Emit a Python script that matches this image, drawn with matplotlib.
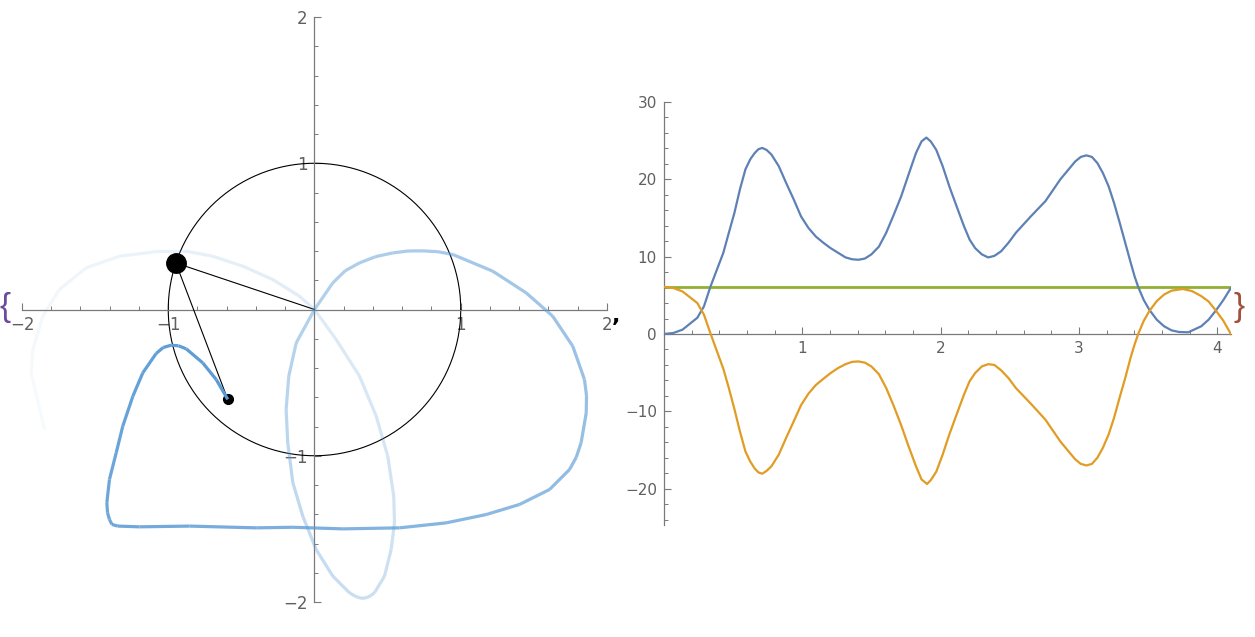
import numpy as np
import matplotlib.pyplot as plt
from matplotlib.collections import LineCollection
from matplotlib.colors import to_rgba

# ---- left panel: path of the outer bob, oldest point first ----
path_x = [-1.846, -1.937, -1.926, -1.858, -1.744, -1.561, -1.333, -1.060, -0.877, -0.695,
          -0.490, -0.285, -0.103, 0.0, 0.148, 0.308, 0.422, 0.501, 0.542, 0.547,
          0.524, 0.479, 0.410, 0.372, 0.330, 0.287, 0.239, 0.125, 0.011, -0.080,
          -0.148, -0.183, -0.194, -0.176, -0.125, 0.0, 0.125, 0.210, 0.308, 0.420,
          0.535, 0.640, 0.740, 0.845, 0.946, 1.219, 1.447, 1.629, 1.766, 1.846,
          1.860, 1.858, 1.823, 1.790, 1.744, 1.607, 1.402, 1.174, 0.900, 0.581,
          0.194, -0.148, -0.399, -0.855, -1.197, -1.345, -1.385, -1.402, -1.415, -1.420,
          -1.402, -1.356, -1.311, -1.242, -1.174, -1.083, -1.035, -0.980, -0.930, -0.877,
          -0.764, -0.672, -0.593]
path_y = [-0.821, -0.433, -0.274, -0.046, 0.137, 0.285, 0.364, 0.399, 0.399, 0.364,
          0.296, 0.205, 0.091, 0.0, -0.205, -0.456, -0.729, -1.003, -1.277, -1.459,
          -1.641, -1.823, -1.937, -1.965, -1.976, -1.965, -1.937, -1.823, -1.641, -1.413,
          -1.185, -0.911, -0.684, -0.456, -0.228, 0.0, 0.182, 0.265, 0.319, 0.362,
          0.387, 0.400, 0.401, 0.395, 0.376, 0.262, 0.114, -0.046, -0.251, -0.479,
          -0.590, -0.707, -0.911, -1.010, -1.094, -1.231, -1.333, -1.402, -1.459, -1.493,
          -1.500, -1.489, -1.493, -1.481, -1.486, -1.481, -1.470, -1.436, -1.390, -1.322,
          -1.162, -0.980, -0.798, -0.593, -0.433, -0.301, -0.260, -0.244, -0.248, -0.269,
          -0.365, -0.479, -0.615]

# pendulum arms: pivot, inner bob, outer bob
arm_x = [0.0, -0.948, -0.593]
arm_y = [0.0, 0.318, -0.615]

# ---- right panel: energies ----
t_kin = [0.0, 0.067, 0.134, 0.241, 0.289, 0.335, 0.380, 0.429, 0.469, 0.509,
         0.549, 0.589, 0.624, 0.656, 0.683, 0.710, 0.742, 0.777, 0.830, 0.884,
         0.938, 0.991, 1.045, 1.098, 1.152, 1.205, 1.259, 1.313, 1.361, 1.406,
         1.452, 1.500, 1.554, 1.607, 1.661, 1.715, 1.768, 1.822, 1.862, 1.897,
         1.929, 1.969, 2.015, 2.063, 2.116, 2.170, 2.210, 2.250, 2.298, 2.344,
         2.389, 2.438, 2.491, 2.545, 2.652, 2.759, 2.866, 2.973, 3.014, 3.054,
         3.094, 3.134, 3.174, 3.215, 3.255, 3.295, 3.335, 3.375, 3.402, 3.429,
         3.469, 3.509, 3.563, 3.616, 3.670, 3.724, 3.791, 3.885, 3.938, 3.992,
         4.045, 4.099]
kinetic = [0.0, 0.13, 0.56, 2.1, 3.58, 6.08, 8.2, 10.5, 13.1, 15.65,
           18.7, 21.3, 22.6, 23.4, 23.9, 24.06, 23.8, 23.2, 21.7, 19.5,
           17.4, 15.2, 13.7, 12.6, 11.8, 11.1, 10.5, 9.9, 9.66, 9.6,
           9.75, 10.3, 11.3, 13.1, 15.4, 17.8, 20.6, 23.4, 24.9, 25.4,
           24.9, 23.8, 21.7, 19.1, 16.5, 13.9, 12.2, 11.1, 10.3, 9.9,
           10.1, 10.7, 11.8, 13.1, 15.2, 17.2, 20.0, 22.3, 22.9, 23.1,
           22.9, 22.1, 20.8, 19.1, 16.9, 14.4, 11.8, 9.2, 7.5, 6.08,
           4.4, 3.15, 1.85, 1.0, 0.47, 0.26, 0.22, 1.0, 1.85, 3.06,
           4.4, 5.95]
t_pot = [0.0, 0.067, 0.134, 0.241, 0.289, 0.335, 0.380, 0.429, 0.469, 0.509,
         0.549, 0.589, 0.624, 0.656, 0.683, 0.710, 0.742, 0.777, 0.830, 0.884,
         0.938, 0.991, 1.045, 1.098, 1.152, 1.205, 1.259, 1.313, 1.361, 1.406,
         1.452, 1.500, 1.554, 1.607, 1.661, 1.715, 1.768, 1.822, 1.862, 1.902,
         1.929, 1.969, 2.015, 2.063, 2.116, 2.170, 2.210, 2.250, 2.298, 2.344,
         2.389, 2.438, 2.491, 2.545, 2.652, 2.759, 2.866, 2.973, 3.014, 3.054,
         3.094, 3.134, 3.174, 3.215, 3.255, 3.295, 3.335, 3.375, 3.402, 3.429,
         3.469, 3.509, 3.563, 3.616, 3.670, 3.750, 3.818, 3.885, 3.938, 3.992,
         4.045, 4.099]
potential = [6.08, 5.95, 5.5, 4.0, 2.5, 0.13, -2.1, -4.5, -7.0, -9.7,
             -12.6, -15.2, -16.5, -17.4, -17.9, -18.07, -17.7, -17.1, -15.6, -13.4,
             -11.3, -9.2, -7.7, -6.6, -5.8, -5.05, -4.4, -3.9, -3.6, -3.55,
             -3.7, -4.2, -5.2, -7.0, -9.3, -11.8, -14.5, -17.1, -18.8, -19.4,
             -18.9, -17.8, -15.6, -13.0, -10.4, -7.8, -6.1, -5.05, -4.2, -3.9,
             -4.0, -4.7, -5.7, -7.0, -9.0, -11.1, -13.9, -16.2, -16.8, -17.0,
             -16.8, -16.0, -14.7, -13.0, -10.8, -8.2, -5.7, -3.0, -1.4, 0.0,
             1.7, 2.95, 4.25, 5.1, 5.6, 5.82, 5.55, 4.9, 4.2, 3.0,
             1.7, 0.0]
t_total = [0.0, 4.1]
total = [6.08, 6.08]

axis_gray = "#7a7a7a"
label_gray = "#606060"

fig = plt.figure(figsize=(12.55, 6.37), dpi=100)

# ---------------- left ----------------
ax1 = fig.add_axes([22 / 1255, 35 / 637, 585 / 1255, 585 / 637])
ax1.set_xlim(-2, 2)
ax1.set_ylim(-2, 2)

th = np.linspace(0, 2 * np.pi, 400)
ax1.plot(np.cos(th), np.sin(th), color="black", lw=0.8, zorder=2)

px = np.array(path_x)
py = np.array(path_y)
segs = np.stack([np.column_stack([px[:-1], py[:-1]]),
                 np.column_stack([px[1:], py[1:]])], axis=1)
seglen = np.hypot(np.diff(px), np.diff(py))
frac = np.cumsum(seglen) / seglen.sum()
base = np.array(to_rgba("#5b9bd5"))
cols = np.tile(base, (len(frac), 1))
cols[:, 3] = 0.03 + 0.97 * frac ** 1.1
lc = LineCollection(segs, colors=cols, linewidths=2.3, capstyle="butt",
                    joinstyle="round", zorder=5)
ax1.add_collection(lc)

ax1.plot(arm_x, arm_y, color="black", lw=0.8, zorder=3)
ax1.plot(arm_x[1], arm_y[1], "o", color="black", ms=14, zorder=4)
ax1.plot(arm_x[2], arm_y[2], "o", color="black", ms=7, zorder=4)

for s in ["top", "right"]:
    ax1.spines[s].set_visible(False)
ax1.spines["left"].set_position(("data", 0))
ax1.spines["bottom"].set_position(("data", 0))
for s in ["left", "bottom"]:
    ax1.spines[s].set_color(axis_gray)
    ax1.spines[s].set_linewidth(0.9)

ax1.set_xticks([-2, -1, 1, 2])
ax1.set_xticklabels(["\u22122", "\u22121", "1", "2"])
ax1.set_yticks([-2, -1, 1, 2])
ax1.set_yticklabels(["\u22122", "\u22121", "1", "2"])
minor = [v for v in np.round(np.arange(-1.8, 2.0, 0.2), 1) if abs(v - round(v)) > 0.01]
ax1.set_xticks(minor, minor=True)
ax1.set_yticks(minor, minor=True)
ax1.tick_params(which="major", direction="in", length=5, width=0.8, color=axis_gray,
                labelcolor=label_gray, labelsize=12, pad=5)
ax1.tick_params(which="minor", direction="in", length=3, width=0.7, color=axis_gray)
ax1.patch.set_visible(False)

# ---------------- right ----------------
ax2 = fig.add_axes([664 / 1255, 112 / 637, 567 / 1255, 423 / 637])
ax2.set_xlim(0, 4.1)
ax2.set_ylim(-24.7, 30)

ax2.plot(t_total, total, color="#8fb032", lw=2.0, zorder=2)
ax2.plot(t_kin, kinetic, color="#5e81b5", lw=1.6, zorder=3)
ax2.plot(t_pot, potential, color="#e19c24", lw=1.6, zorder=3)

for s in ["top", "right"]:
    ax2.spines[s].set_visible(False)
ax2.spines["left"].set_position(("data", 0))
ax2.spines["bottom"].set_position(("data", 0))
for s in ["left", "bottom"]:
    ax2.spines[s].set_color(axis_gray)
    ax2.spines[s].set_linewidth(0.9)

ax2.set_xticks([1, 2, 3, 4])
ax2.set_xticklabels(["1", "2", "3", "4"])
ax2.set_yticks([-20, -10, 0, 10, 20, 30])
ax2.set_yticklabels(["\u221220", "\u221210", "0", "10", "20", "30"])
ax2.set_xticks(np.round(np.arange(0.2, 4.1, 0.2), 1), minor=True)
ax2.set_yticks(np.arange(-24, 30, 2), minor=True)
ax2.tick_params(which="major", direction="in", length=5, width=0.8, color=axis_gray,
                labelcolor=label_gray, labelsize=11, pad=5)
ax2.tick_params(which="minor", direction="in", length=3, width=0.7, color=axis_gray)
ax2.patch.set_visible(False)

# list brackets around the two graphics
fig.text(0.0, (637 - 308) / 637, "{", fontsize=24, color="#6a4c9c",
         va="center", ha="left", family="Liberation Sans")
fig.text(612 / 1255, (637 - 316) / 637, ",", fontsize=16, color="black",
         va="center", ha="left", fontweight="bold")
fig.text(1233 / 1255, (637 - 308) / 637, "}", fontsize=24, color="#a0503c",
         va="center", ha="left", family="Liberation Sans")

fig.savefig("out.png", dpi=100)
